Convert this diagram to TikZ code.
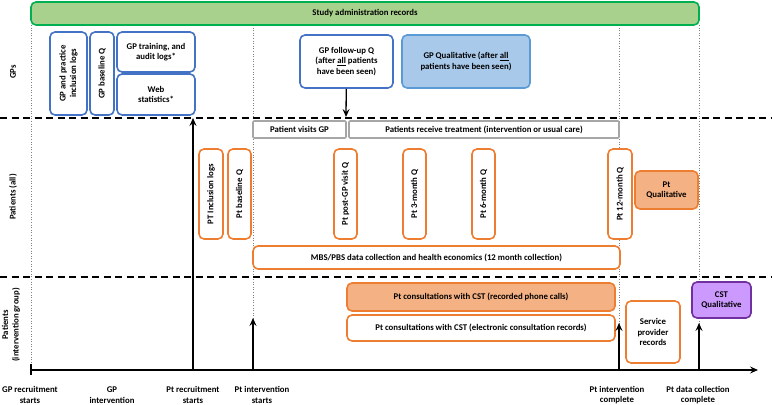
\documentclass[tikz,border=0pt]{standalone}
\usepackage{fontspec}
\setmainfont{Carlito}
\usepackage{tikz}
\usetikzlibrary{arrows,arrows.meta}
\definecolor{adminfill}{HTML}{A9D18E}
\definecolor{adminline}{HTML}{00B050}
\definecolor{gpline}{HTML}{4472C4}
\definecolor{gpqfill}{HTML}{A9C9EA}
\definecolor{gpqline}{HTML}{5B9BD5}
\definecolor{ptline}{HTML}{ED7D31}
\definecolor{ptfill}{HTML}{F4B183}
\definecolor{treatline}{HTML}{A6A6A6}
\definecolor{cstfill}{HTML}{CC99FF}
\definecolor{cstline}{HTML}{7030A0}

\begin{document}
\begin{tikzpicture}[>={Stealth[length=8bp,width=7bp,inset=3bp]},line join=bevel,
  font=\fontsize{8.8}{10.5}\selectfont\bfseries,
  box/.style={draw,rounded corners=5bp,line width=1.6bp,fill=white,inner sep=1bp,align=center},
  gpbox/.style={box,draw=gpline},
  ptbox/.style={box,draw=ptline},
  graybox/.style={box,draw=treatline,rounded corners=1bp},
  lane/.style={dash pattern=on 7bp off 4.5bp,line width=1.5bp},
  timeline/.style={dotted,gray,line width=0.6bp},
  axis/.style={line width=1.3bp},
  lanelabel/.style={rotate=90,align=center},
  milestone/.style={align=center}]
%%
\useasboundingbox (0bp,0bp) rectangle (772bp,405bp);
\coordinate (gpl) at (0bp,287bp);
\coordinate (gpr) at (772bp,287bp);
\coordinate (ptl) at (0bp,128bp);
\coordinate (ptr) at (772bp,128bp);
\coordinate (axl) at (31bp,35bp);
\coordinate (axr) at (758bp,35bp);
\coordinate (t0) at (31bp,380bp);
\coordinate (t1) at (253bp,380bp);
\coordinate (t2) at (619bp,380bp);
\coordinate (t3) at (699bp,380bp);
\coordinate (ptrec) at (193bp,35bp);
\coordinate (ptrectip) at (193bp,287bp);
\coordinate (ptint) at (253bp,35bp);
\coordinate (ptinttip) at (253bp,87bp);
\coordinate (ptend) at (619bp,35bp);
\coordinate (ptendtip) at (619bp,82bp);
\coordinate (dcend) at (699bp,35bp);
\coordinate (dcendtip) at (699bp,82bp);
\coordinate (visittop) at (346bp,288bp);
%
\draw [timeline] (t0) -- (axl);
\draw [timeline] (t1) -- (ptint);
\draw [timeline] (t2) -- (ptend);
\draw [timeline] (t3) -- (dcend);
\draw [lane] (gpl) -- (gpr);
\draw [lane] (ptl) -- (ptr);
%
\node (admin) at (365bp,391.5bp) [box,draw=adminline,fill=adminfill,minimum width=668bp,minimum height=23bp] {Study administration records};
%
\node (gplog) at (68.5bp,331.5bp) [gpbox,rotate=90,minimum width=83bp,minimum height=37bp] {GP and practice\\inclusion logs};
\node (gpbase) at (102bp,331.5bp) [gpbox,rotate=90,minimum width=83bp,minimum height=24bp] {GP baseline Q};
\node (gptrain) at (156bp,353bp) [gpbox,minimum width=78bp,minimum height=40bp] {GP training, and\\audit logs*};
\node (webstat) at (156bp,310.5bp) [gpbox,minimum width=78bp,minimum height=41bp] {Web\\statistics*};
\node (gpfollow) at (346.5bp,343.5bp) [gpbox,minimum width=93bp,minimum height=53bp] {GP follow-up Q\\(after \underline{all} patients\\have been seen)};
\node (gpqual) at (466bp,343.5bp) [box,draw=gpqline,fill=gpqfill,minimum width=128bp,minimum height=53bp] {GP Qualitative (after \underline{all}\\patients have been seen)};
%
\node (visit) at (299.5bp,275.5bp) [graybox,minimum width=93bp,minimum height=17bp] {Patient visits GP};
\node (treat) at (484bp,275.5bp) [graybox,minimum width=270bp,minimum height=17bp] {Patients receive treatment (intervention or usual care)};
\node (ptlog) at (211bp,211bp) [ptbox,rotate=90,minimum width=90bp,minimum height=24bp] {PT Inclusion logs};
\node (ptbase) at (239.5bp,211bp) [ptbox,rotate=90,minimum width=90bp,minimum height=23bp] {Pt baseline Q};
\node (ptpost) at (345.5bp,211bp) [ptbox,rotate=90,minimum width=90bp,minimum height=23bp] {Pt post-GP visit Q};
\node (pt3) at (414.5bp,211bp) [ptbox,rotate=90,minimum width=90bp,minimum height=23bp] {Pt 3-month Q};
\node (pt6) at (483.5bp,211bp) [ptbox,rotate=90,minimum width=90bp,minimum height=23bp] {Pt 6-month Q};
\node (pt12) at (620bp,211bp) [ptbox,rotate=90,minimum width=90bp,minimum height=24bp] {Pt 12-month Q};
\node (ptqual) at (666.5bp,215bp) [ptbox,fill=ptfill,minimum width=63bp,minimum height=38bp] {Pt\\Qualitative};
\node (mbs) at (436.5bp,147.5bp) [ptbox,minimum width=367bp,minimum height=23bp] {MBS/PBS data collection and health economics (12 month collection)};
%
\node (cstcall) at (481bp,108bp) [ptbox,fill=ptfill,minimum width=268bp,minimum height=28bp] {Pt consultations with CST (recorded phone calls)};
\node (cstrec) at (481bp,77bp) [ptbox,minimum width=268bp,minimum height=26bp] {Pt consultations with CST (electronic consultation records)};
\node (service) at (653bp,73bp) [ptbox,minimum width=54bp,minimum height=62bp] {Service\\provider\\records};
\node (cstqual) at (721.5bp,105bp) [box,draw=cstline,fill=cstfill,minimum width=59bp,minimum height=36bp] {CST\\Qualitative};
%
\node (gps) at (13bp,333bp) [lanelabel] {GPs};
\node (ptall) at (13bp,208bp) [lanelabel] {Patients (all)};
\node (ptgrp) at (11bp,80bp) [lanelabel] {Patients\\(intervention group)};
%
\draw [axis,->] (axl) -- (axr);
\draw [axis] ([yshift=-5bp]axl) -- ([yshift=6bp]axl);
\draw [axis,->] (ptrec) -- (ptrectip);
\draw [axis,->] (ptint) -- (ptinttip);
\draw [axis,->] (ptend) -- (ptendtip);
\draw [axis,->] (dcend) -- (dcendtip);
\draw [axis,->] (gpfollow) -- (visittop);
%
\node (m0) at (30bp,10bp) [milestone] {GP recruitment\\starts};
\node (m1) at (112bp,10bp) [milestone] {GP\\intervention};
\node (m2) at (193bp,10bp) [milestone] {Pt recruitment\\starts};
\node (m3) at (262bp,10bp) [milestone] {Pt intervention\\starts};
\node (m4) at (617bp,10bp) [milestone] {Pt intervention\\complete};
\node (m5) at (698bp,10bp) [milestone] {Pt data collection\\complete};
%
\end{tikzpicture}
\end{document}
